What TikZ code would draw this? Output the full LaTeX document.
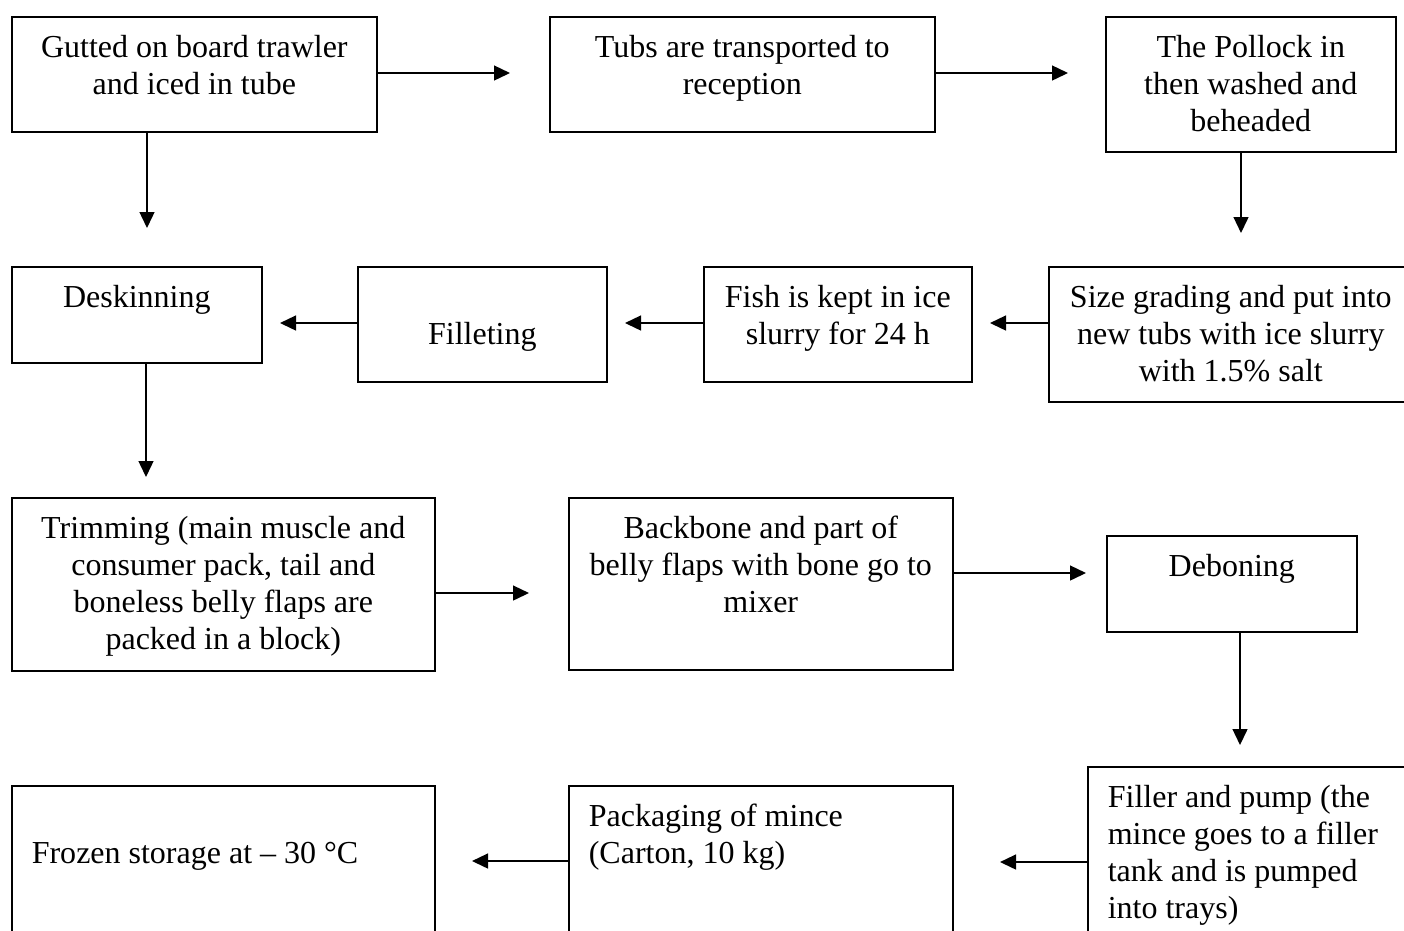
\documentclass[tikz,border=0pt]{standalone}
\usepackage{fontspec}
\setmainfont{Liberation Serif}
\usepackage{tikz}
\usetikzlibrary{arrows.meta, calc}

\newlength{\px}
\setlength{\px}{0.375pt}

\tikzset{
  stage/.style={draw, line width=0.6pt, inner sep=0pt, anchor=north west,
    font=\fontsize{12}{13.8}\selectfont},
  flow/.style={->, line width=0.6pt},
  >={Triangle[length=6pt, width=5.6pt]}
}
\newcommand{\stagetext}[4]{\begin{minipage}[t][#2\px][t]{#1\px}#3\rule{0pt}{41\px}#4\end{minipage}}
\newcommand{\alignmid}{\centering}
\newcommand{\alignlft}{\raggedright\leftskip=20\px}

\begin{document}
\begin{tikzpicture}[x=0.375pt, y=-0.375pt]
      \useasboundingbox (0, 0) rectangle (1404, 930);
      \clip (0, 0) rectangle (1404, 930);

      \node[stage] (gutted) at (11, 16) {\stagetext{365}{115}{\alignmid}{Gutted on board trawler\\and iced in tube}};
      \node[stage] (tubs) at (549, 16) {\stagetext{385}{115}{\alignmid}{Tubs are transported to\\reception}};
      \node[stage] (pollock) at (1105, 16) {\stagetext{290}{135}{\alignmid}{The Pollock in\\then washed and\\beheaded}};

      \node[stage] (deskin) at (11, 266) {\stagetext{250}{96}{\alignmid}{Deskinning}};
      \node[stage] (fillet) at (357, 266) {\stagetext{249}{115}{\alignmid}{\\Filleting}};
      \node[stage] (slurry) at (703, 266) {\stagetext{268}{115}{\alignmid}{Fish is kept in ice\\slurry for 24 h}};
      \node[stage] (grading) at (1048, 266) {\stagetext{364}{135}{\alignmid}{Size grading and put into\\new tubs with ice slurry\\with 1.5\% salt}};

      \node[stage] (trim) at (11, 497) {\stagetext{423}{173}{\alignmid}{Trimming (main muscle and\\consumer pack, tail and\\boneless belly flaps are\\packed in a block)}};
      \node[stage] (backbone) at (568, 497) {\stagetext{384}{172}{\alignmid}{Backbone and part of\\belly flaps with bone go to\\mixer}};
      \node[stage] (debone) at (1106, 535) {\stagetext{250}{96}{\alignmid}{Deboning}};

      \node[stage] (filler) at (1087, 766) {\stagetext{330}{200}{\alignlft}{Filler and pump (the\\mince goes to a filler\\tank and is pumped\\into trays)}};
      \node[stage] (pack) at (568, 785) {\stagetext{384}{170}{\alignlft}{Packaging of mince\\(Carton, 10 kg)}};
      \node[stage] (frozen) at (11, 785) {\stagetext{423}{170}{\alignlft}{\\Frozen storage at – 30 °C}};

      \coordinate (t1) at (510, 73);
      \coordinate (t2) at (1068, 73);
      \coordinate (t3) at (147, 228);
      \coordinate (t4) at (1241, 233);
      \coordinate (t5) at (990, 323);
      \coordinate (t6) at (625, 323);
      \coordinate (t7) at (280, 323);
      \coordinate (t8) at (146, 477);
      \coordinate (t9) at (529, 593);
      \coordinate (t10) at (1086, 573);
      \coordinate (t11) at (1240, 745);
      \coordinate (t12) at (1000, 862);
      \coordinate (t13) at (472, 861);

      \draw[flow] (gutted.east |- t1) -- (t1);
      \draw[flow] (tubs.east |- t2) -- (t2);
      \draw[flow] (gutted.south -| t3) -- (t3);
      \draw[flow] (pollock.south -| t4) -- (t4);
      \draw[flow] (grading.west |- t5) -- (t5);
      \draw[flow] (slurry.west |- t6) -- (t6);
      \draw[flow] (fillet.west |- t7) -- (t7);
      \draw[flow] (deskin.south -| t8) -- (t8);
      \draw[flow] (trim.east |- t9) -- (t9);
      \draw[flow] (backbone.east |- t10) -- (t10);
      \draw[flow] (debone.south -| t11) -- (t11);
      \draw[flow] (filler.west |- t12) -- (t12);
      \draw[flow] (pack.west |- t13) -- (t13);

    \end{tikzpicture}
\end{document}
